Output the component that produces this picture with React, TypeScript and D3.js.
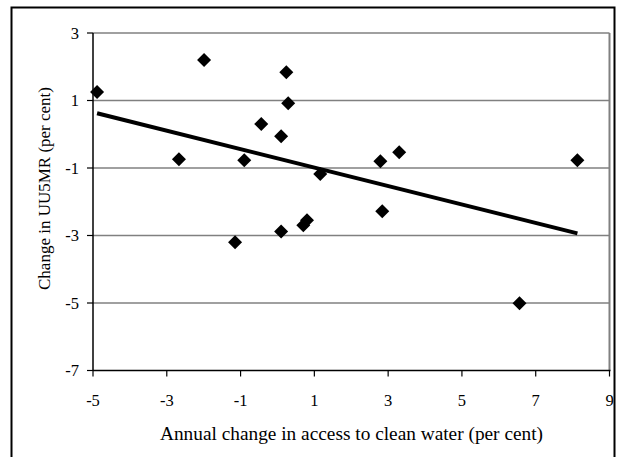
import React from "react";
import * as d3 from "d3";

const waterChange = [-4.89, -1.99, -2.67, 0.24, 0.29, -0.44, 0.1, -0.9, 1.16, -1.15, 0.1, 0.7, 0.8, 2.79, 3.3, 2.84, 6.56, 8.13];
const u5mrChange = [1.25, 2.2, -0.74, 1.84, 0.92, 0.3, -0.06, -0.77, -1.18, -3.2, -2.88, -2.7, -2.55, -0.8, -0.53, -2.28, -5.01, -0.77];
const xTicks = [-5, -3, -1, 1, 3, 5, 7, 9];
const yTicks = [3, 1, -1, -3, -5, -7];
const xTitle = "Annual change in access to clean water (per cent)";
const yTitle = "Change in UU5MR (per cent)";

export default function App() {
  const W = 620, H = 457;
  const left = 93, right = 609.5, top = 33, bottom = 370.5;
  const x = d3.scaleLinear().domain([-5, 9]).range([left, right]);
  const y = d3.scaleLinear().domain([-7, 3]).range([bottom, top]);

  const n = waterChange.length;
  const mx = d3.mean(waterChange) as number;
  const my = d3.mean(u5mrChange) as number;
  let sxy = 0, sxx = 0;
  for (let i = 0; i < n; i++) {
    sxy += (waterChange[i] - mx) * (u5mrChange[i] - my);
    sxx += (waterChange[i] - mx) ** 2;
  }
  const slope = sxy / sxx;
  const icpt = my - slope * mx;
  const [xmin, xmax] = d3.extent(waterChange) as [number, number];
  const trend: [number, number][] = [
    [xmin, icpt + slope * xmin],
    [xmax, icpt + slope * xmax],
  ];
  const line = d3.line<[number, number]>().x((d) => x(d[0])).y((d) => y(d[1]));
  const diamond = d3.symbol().type(d3.symbolSquare).size(98)() as string;
  const font = "'Liberation Serif', 'Times New Roman', serif";

  return (
    <svg width={W} height={H} style={{ position: "absolute", left: 0, top: 0, background: "#fff" }} fontFamily={font}>
      <rect x={0} y={0} width={W} height={H} fill="#fff" />
      <rect x={11.5} y={7.5} width={603} height={460} fill="none" stroke="#000" strokeWidth={2} />
      {/* gridlines */}
      {yTicks.filter((t) => t !== -7).map((t) => (
        <line key={"g" + t} x1={left} x2={right} y1={y(t)} y2={y(t)} stroke="#808080" strokeWidth={1.5} />
      ))}
      <line x1={right} x2={right} y1={top} y2={bottom} stroke="#808080" strokeWidth={2} />
      {/* axes */}
      <line x1={left} x2={left} y1={top} y2={bottom} stroke="#000" strokeWidth={1.5} />
      <line x1={left} x2={right + 1} y1={bottom} y2={bottom} stroke="#000" strokeWidth={1.5} />
      {yTicks.map((t) => (
        <g key={"y" + t}>
          <line x1={left - 6} x2={left} y1={y(t)} y2={y(t)} stroke="#000" strokeWidth={1.2} />
          <text x={left - 14} y={y(t)} dy="0.35em" textAnchor="end" fontSize={16.5}>{t}</text>
        </g>
      ))}
      {xTicks.map((t) => (
        <g key={"x" + t}>
          <line x1={x(t)} x2={x(t)} y1={bottom} y2={bottom + 6} stroke="#000" strokeWidth={1.2} />
          <text x={x(t)} y={406} textAnchor="middle" fontSize={16.5}>{t}</text>
        </g>
      ))}
      <path d={line(trend) as string} fill="none" stroke="#000" strokeWidth={4} />
      {waterChange.map((v, i) => (
        <path key={"p" + i} d={diamond} transform={`translate(${x(v)},${y(u5mrChange[i])}) rotate(45)`} fill="#000" />
      ))}
      <text x={351.5} y={440} textAnchor="middle" fontSize={18} textLength={383} lengthAdjust="spacingAndGlyphs">{xTitle}</text>
      <text transform={`translate(50,188.5) rotate(-90)`} textAnchor="middle" fontSize={17}>{yTitle}</text>
    </svg>
  );
}
